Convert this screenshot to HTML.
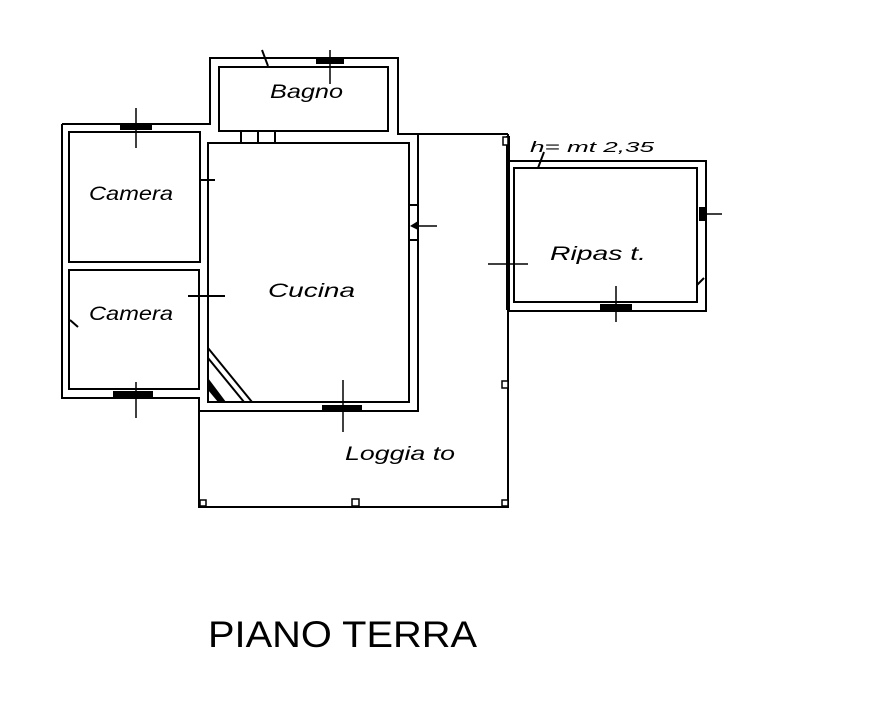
<!DOCTYPE html>
<html><head><meta charset="utf-8"><style>
html,body{margin:0;padding:0;background:#fff;}
svg{display:block}
text{font-family:"Liberation Sans",sans-serif;fill:#000}
</style></head><body>
<svg width="878" height="706" viewBox="0 0 878 706" xmlns="http://www.w3.org/2000/svg">
<g fill="none" stroke="#000" stroke-width="2">
<path d="M62,124 H210 V58 H398 V134 H508"/>
<path d="M62,124 V398 H199 V507 H508 V134"/>
<rect x="219" y="67" width="169" height="64"/>
<rect x="69" y="132" width="131" height="130"/>
<rect x="69" y="270" width="130" height="119"/>
<rect x="208" y="143" width="201" height="259"/>
<path d="M418,134 V411 H200"/>
<path d="M508,161 H706 V311 H508"/>
<rect x="514" y="168" width="183" height="134"/>
<path d="M241,131 V143 M258,131 V143 M275,131 V143"/>
<path d="M200,152 V178 M200,180 H215 M200,200 V180"/>
<path d="M199,283 V310 M188,296 H225"/>
<path d="M208,348 L252,402 M208,358 L244,402"/>
<path d="M409,205 H418 M409,240 H418"/>
<path d="M262,50 L268,66"/>
<path d="M544,152 L538,168"/>
<path d="M70,320 L78,327"/>
<path d="M697,285 L704,278"/>
</g>
<path d="M208,378 L208,390 L218,402 L226,402 Z" fill="#000"/>
<rect x="506" y="136" width="4" height="174" fill="#000"/>
<g fill="#000">
<rect x="120" y="124" width="32" height="6"/>
<rect x="316" y="58" width="28" height="6"/>
<rect x="113" y="391" width="40" height="6"/>
<rect x="322" y="405" width="40" height="6"/>
<rect x="600" y="304" width="32" height="6"/>
<rect x="699" y="207" width="6" height="14"/>
<path d="M418,221 L410,226 L418,230 Z"/>
</g>
<g stroke="#000" stroke-width="1.5">
<path d="M136,108 V148 M330,50 V84 M136,382 V418 M343,380 V432 M616,286 V322 M700,214 H722 M418,226 H437 M488,264 H528"/>
</g>
<g fill="#fff" stroke="#000" stroke-width="1.5">
<rect x="200" y="500" width="6" height="6"/>
<rect x="352" y="499" width="7" height="7"/>
<rect x="502" y="500" width="6" height="6"/>
<rect x="502" y="381" width="6" height="7"/>
<rect x="503" y="137" width="5" height="8"/>
</g>
<g font-style="italic" font-size="19" lengthAdjust="spacingAndGlyphs">
<text x="270" y="98" textLength="73" lengthAdjust="spacingAndGlyphs">Bagno</text>
<text x="89" y="200" textLength="84" lengthAdjust="spacingAndGlyphs">Camera</text>
<text x="89" y="320" textLength="84" lengthAdjust="spacingAndGlyphs">Camera</text>
<text x="268" y="297" textLength="87" lengthAdjust="spacingAndGlyphs">Cucina</text>
<text x="345" y="460" textLength="110" lengthAdjust="spacingAndGlyphs">Loggia to</text>
<text x="550" y="260" textLength="96" lengthAdjust="spacingAndGlyphs">Ripas t.</text>
<text x="530" y="152" font-size="15" textLength="124" lengthAdjust="spacingAndGlyphs">h= mt 2,35</text>
</g>
<text x="208" y="647" font-size="37" font-weight="normal" textLength="269" lengthAdjust="spacingAndGlyphs">PIANO TERRA</text>
</svg>
</body></html>
